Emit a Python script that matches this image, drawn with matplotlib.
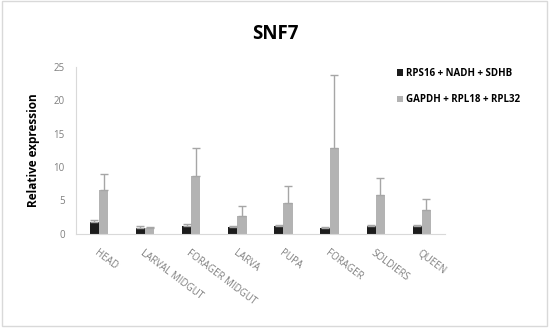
import numpy as np
import matplotlib
matplotlib.use("Agg")
import matplotlib.pyplot as plt
from matplotlib.patches import Rectangle

plt.rcParams['font.family'] = ['Open Sans', 'DejaVu Sans']

categories = ['HEAD', 'LARVAL MIDGUT', 'FORAGER MIDGUT', 'LARVA', 'PUPA',
              'FORAGER', 'SOLDIERS', 'QUEEN']
rps_vals = [1.75, 0.85, 1.2, 1.05, 1.25, 0.95, 1.2, 1.2]
rps_err = [0.3, 0.35, 0.35, 0.15, 0.1, 0.05, 0.1, 0.15]
gapdh_vals = [6.6, 0.95, 8.7, 2.65, 4.6, 12.8, 5.85, 3.6]
gapdh_err = [2.3, 0.1, 4.1, 1.55, 2.5, 11.0, 2.55, 1.55]

fig = plt.figure(figsize=(5.5, 3.28), dpi=100)
ax = fig.add_axes([0.138, 0.287, 0.671, 0.509])

x = np.arange(len(categories))
w = 0.2
ecolor = '#a6a6a6'
ax.bar(x - w / 2, rps_vals, w, color='#1c1c1c', label='RPS16 + NADH + SDHB',
       yerr=[np.zeros(len(x)), rps_err], ecolor=ecolor,
       error_kw=dict(elinewidth=1, capsize=3, capthick=1))
ax.bar(x + w / 2, gapdh_vals, w, color='#b3b3b3', label='GAPDH + RPL18 + RPL32',
       yerr=[np.zeros(len(x)), gapdh_err], ecolor=ecolor,
       error_kw=dict(elinewidth=1, capsize=3, capthick=1))

ax.set_xlim(-0.5, len(categories) - 0.5)
ax.set_ylim(0, 25)
ax.set_yticks([0, 5, 10, 15, 20, 25])
ax.set_xticks(x)
ax.set_xticklabels(categories, rotation=-37, ha='left', rotation_mode='anchor',
                   fontsize=7, color='#7f7f7f')
ax.tick_params(axis='y', labelsize=7, labelcolor='#7f7f7f', length=0, pad=8)
ax.tick_params(axis='x', length=0, pad=10)
for s in ['top', 'right']:
    ax.spines[s].set_visible(False)
for s in ['left', 'bottom']:
    ax.spines[s].set_color('#d9d9d9')
ax.set_ylabel('Relative expression', fontsize=8.5, fontweight='bold', labelpad=10)

fig.text(0.5, 0.895, 'SNF7', ha='center', va='center', fontsize=13.5, fontweight='bold')

leg = fig.legend(loc='upper left', bbox_to_anchor=(0.705, 0.82), frameon=False,
                 prop=dict(size=7, weight='bold'), handlelength=0.7, handleheight=0.7,
                 handletextpad=0.3, labelspacing=1.6)

fig.patches.append(Rectangle((0.004, 0.006), 0.99, 0.99, transform=fig.transFigure,
                             fill=False, edgecolor='#d9d9d9', linewidth=1))

fig.savefig('out.png', dpi=100)
